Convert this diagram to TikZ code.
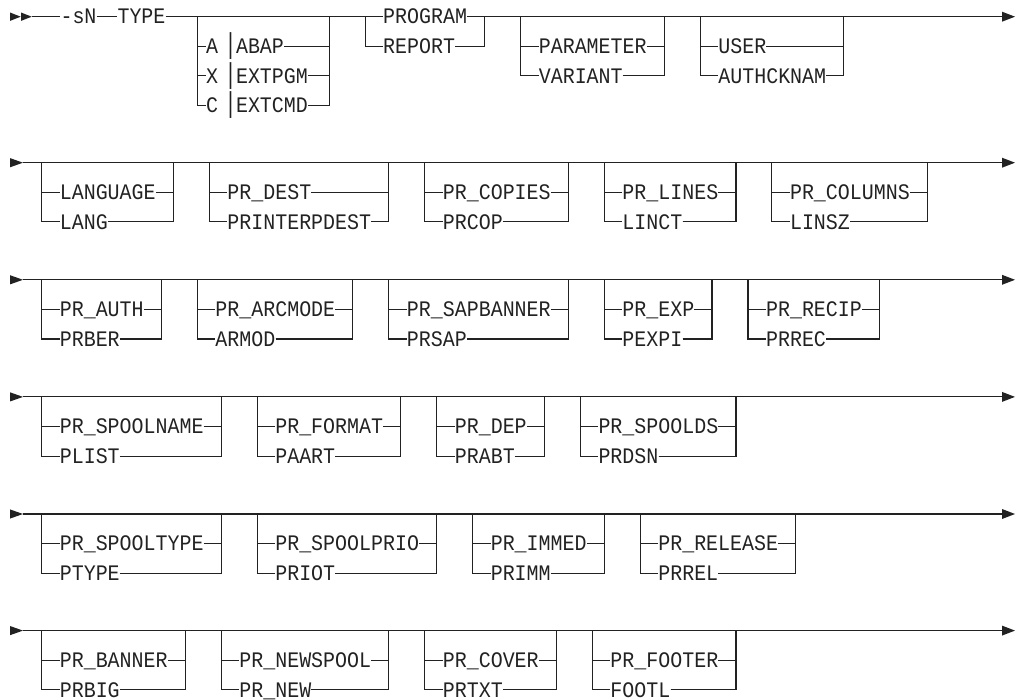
\documentclass[tikz,border=0pt]{standalone}
\usepackage{fontspec}
\usepackage{graphicx}
\newfontfamily\rrfont[FakeStretch=0.9]{Liberation Mono}
\definecolor{ink}{HTML}{222222}
\newcommand\cw{11.97}
\newcommand\rs{29.6}
\newcommand\rrbar{\kern6.5pt\scalebox{1}[1.3]{|}\kern-0.6pt}
\tikzset{
  rail/.style={draw=ink, line width=1.15pt, line join=miter},
  item/.style={font=\rrfont\fontsize{22.17}{26}\selectfont, text=ink, inner sep=0pt,
               text height=14.6pt, text depth=0pt, anchor=west},
  tipfill/.style={fill=ink, draw=none},
}
% optional branch: #1 name, #2 left x, #3 main y, #4 longest item (cells), #5 items
\newcommand\optbr[5]{%
  \pgfmathsetmacro\rrL{#2}%
  \pgfmathsetmacro\rrR{#2+(#4+3)*\cw}%
  \pgfmathsetmacro\rrT{#2+1.5*\cw}%
  \coordinate (#1-l) at (\rrL,#3);
  \coordinate (#1-r) at (\rrR,#3);
  \foreach \t [count=\i] in {#5} {
    \node[item] (#1-\i) at (\rrT,{#3+\i*\rs}) {\t};
    \coordinate (#1-\i-l) at (\rrL,{#3+\i*\rs});
    \coordinate (#1-\i-r) at (\rrR,{#3+\i*\rs});
    \draw[rail] (#1-\i-l) -- (#1-\i.west);
    \draw[rail] (#1-\i.east) -- (#1-\i-r);
    \xdef\lastn{\i}
  }
  \draw[rail] (#1-l) -- (#1-\lastn-l) -- (#1-\lastn.west);
  \draw[rail] (#1-\lastn.east) -- (#1-\lastn-r) -- (#1-r);
  \pgfmathsetmacro\rrN{\rrR+3*\cw}%
  \xdef\curx{\rrN}%
}
% row with straight main line: #1 name, #2 y
\newcommand\railrow[2]{%
  \coordinate (#1s) at (23,#2);
  \coordinate (#1e) at (1002,#2);
  \fill[tipfill] (10,#2-4.6) -- (#1s) -- (10,#2+4.6) -- cycle;
  \draw[rail] (#1s) -- (#1e);
  \fill[tipfill] (1002,#2-5) -- (1015,#2) -- (1002,#2+5) -- cycle;
}
\begin{document}
\begin{tikzpicture}[x=1pt,y=-1pt]
\useasboundingbox (0,0) rectangle (1018,700);

% ---------------- row 1 ----------------
\def\ya{16.7}
\fill[tipfill] (10,\ya-4.2) -- (20.7,\ya) -- (10,\ya+4.2) -- cycle;
\fill[tipfill] (21,\ya-4.2) -- (31.7,\ya) -- (21,\ya+4.2) -- cycle;
\coordinate (r1s) at (31.7,\ya);
\node[item, anchor=center] (sn) at (78.5,\ya) {-sN};
\node[item, anchor=center] (type) at (141.5,\ya) {TYPE};
% TYPE options
\def\tl{197.5}
\pgfmathsetmacro\tr{\tl+11*\cw}
\coordinate (t-l) at (\tl,\ya);
\coordinate (t-r) at (\tr,\ya);
\foreach \t [count=\i] in {{A\rrbar ABAP},{X\rrbar EXTPGM},{C\rrbar EXTCMD}} {
  \node[item] (t-\i) at (206,{\ya+\i*\rs}) {\t};
  \coordinate (t-\i-l) at (\tl,{\ya+\i*\rs});
  \coordinate (t-\i-r) at (\tr,{\ya+\i*\rs});
  \draw[rail] (t-\i-l) -- (t-\i.west);
  \draw[rail] (t-\i.east) -- (t-\i-r);
}
\draw[rail] (t-l) -- (t-3-l) -- (t-3.west);
\draw[rail] (t-3.east) -- (t-3-r) -- (t-r);
% PROGRAM / REPORT (required)
\pgfmathsetmacro\pl{\tr+3*\cw}
\pgfmathsetmacro\pr{\pl+10*\cw}
\coordinate (p-l) at (\pl,\ya);
\coordinate (p-r) at (\pr,\ya);
\node[item] (prog) at (\pl+1.5*\cw,\ya) {PROGRAM};
\node[item] (rep) at (\pl+1.5*\cw,\ya+\rs) {REPORT};
\coordinate (rep-l) at (\pl,\ya+\rs);
\coordinate (rep-r) at (\pr,\ya+\rs);
\draw[rail] (p-l) -- (rep-l) -- (rep.west);
\draw[rail] (rep.east) -- (rep-r) -- (p-r);
\coordinate (r1e) at (1002,\ya);
\draw[rail] (r1s) -- (sn.west);
\draw[rail] (sn.east) -- (type.west);
\draw[rail] (type.east) -- (prog.west);
\draw[rail] (prog.east) -- (r1e);
\fill[tipfill] (1002,\ya-5) -- (1015,\ya) -- (1002,\ya+5) -- cycle;
\pgfmathsetmacro\tmpx{\pr+3*\cw}\xdef\curx{\tmpx}
\optbr{pa}{\curx}{\ya}{9}{PARAMETER,VARIANT}
\optbr{us}{\curx}{\ya}{9}{USER,AUTHCKNAM}

% ---------------- row 2 ----------------
\def\yb{162.7}
\railrow{r2}{\yb}
\xdef\curx{41.7}
\optbr{la}{\curx}{\yb}{8}{LANGUAGE,LANG}
\optbr{de}{\curx}{\yb}{12}{PR\_DEST,PRINTERPDEST}
\optbr{co}{\curx}{\yb}{9}{PR\_COPIES,PRCOP}
\optbr{li}{\curx}{\yb}{8}{PR\_LINES,LINCT}
\optbr{cl}{\curx}{\yb}{10}{PR\_COLUMNS,LINSZ}

% ---------------- row 3 ----------------
\def\yc{279.8}
\railrow{r3}{\yc}
\xdef\curx{41.7}
\optbr{au}{\curx}{\yc}{7}{PR\_AUTH,PRBER}
\optbr{ar}{\curx}{\yc}{10}{PR\_ARCMODE,ARMOD}
\optbr{sb}{\curx}{\yc}{12}{PR\_SAPBANNER,PRSAP}
\optbr{ex}{\curx}{\yc}{6}{PR\_EXP,PEXPI}
\optbr{rc}{\curx}{\yc}{8}{PR\_RECIP,PRREC}

% ---------------- row 4 ----------------
\def\yd{396.9}
\railrow{r4}{\yd}
\xdef\curx{41.7}
\optbr{sn}{\curx}{\yd}{12}{PR\_SPOOLNAME,PLIST}
\optbr{fo}{\curx}{\yd}{9}{PR\_FORMAT,PAART}
\optbr{dp}{\curx}{\yd}{6}{PR\_DEP,PRABT}
\optbr{sd}{\curx}{\yd}{10}{PR\_SPOOLDS,PRDSN}

% ---------------- row 5 ----------------
\def\ye{514.0}
\railrow{r5}{\ye}
\xdef\curx{41.7}
\optbr{st}{\curx}{\ye}{12}{PR\_SPOOLTYPE,PTYPE}
\optbr{sp}{\curx}{\ye}{12}{PR\_SPOOLPRIO,PRIOT}
\optbr{im}{\curx}{\ye}{8}{PR\_IMMED,PRIMM}
\optbr{rl}{\curx}{\ye}{10}{PR\_RELEASE,PRREL}

% ---------------- row 6 ----------------
\def\yf{630.6}
\railrow{r6}{\yf}
\xdef\curx{41.7}
\optbr{bn}{\curx}{\yf}{9}{PR\_BANNER,PRBIG}
\optbr{ns}{\curx}{\yf}{11}{PR\_NEWSPOOL,PR\_NEW}
\optbr{cv}{\curx}{\yf}{8}{PR\_COVER,PRTXT}
\optbr{ft}{\curx}{\yf}{9}{PR\_FOOTER,FOOTL}
\end{tikzpicture}
\end{document}
